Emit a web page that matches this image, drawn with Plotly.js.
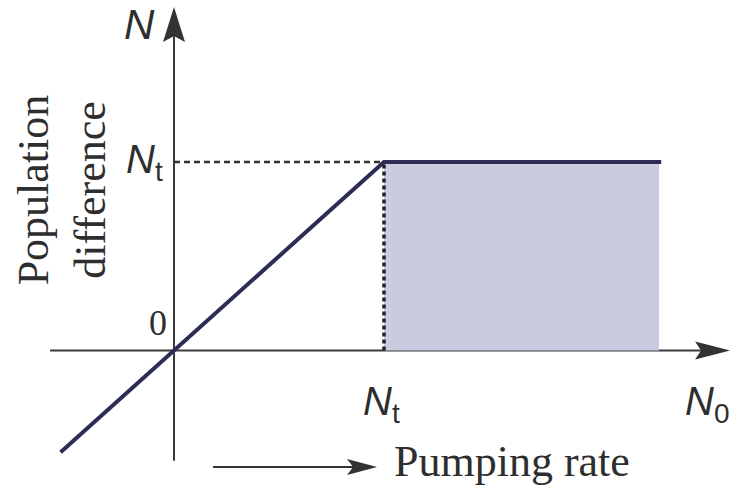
<!DOCTYPE html>
<html>
<head>
<meta charset="utf-8">
<script src="https://cdn.plot.ly/plotly-3.0.1.min.js"></script>
<style>html,body{margin:0;padding:0;background:#fff;}#chart{width:737px;height:487px;}</style>
</head>
<body>
<div id="chart"></div>
<script>
// Data (units of threshold N_t)
const pumpX = [-0.54, 0, 1, 2.32];        // pumping rate N0
const popY  = [-0.54, 0, 1, 1];           // population difference N
const threshold = 1;                       // N_t
const gainRegionX = [1, 2.31, 2.31, 1, 1];
const gainRegionY = [0, 0, 1, 1, 0];
const labels = { yTop: "<i>N</i>", yThresh: "<i>N</i><sub>t</sub>", origin: "0",
                 xThresh: "<i>N</i><sub>t</sub>", xEnd: "<i>N</i><sub>0</sub>",
                 yTitle: "Population<br>difference", xTitle: "Pumping rate" };

const ink = "#2e2e2e";
const lineCol = "#2b2d56";
const serif = "Liberation Serif, Times New Roman, serif";
const sans = "Liberation Sans, Arial, sans-serif";

const traces = [
  { x: gainRegionX, y: gainRegionY, type: "scatter", mode: "lines", fill: "toself",
    fillcolor: "#c9cce1", line: { width: 0 }, hoverinfo: "skip", showlegend: false },
  { x: [0, threshold], y: [threshold, threshold], type: "scatter", mode: "lines",
    line: { color: "#333", width: 2.5, dash: "6px,4px" }, showlegend: false },
  { x: [threshold, threshold], y: [0, threshold], type: "scatter", mode: "lines",
    line: { color: "#222", width: 3.5, dash: "4px,3px" }, showlegend: false },
  { x: pumpX, y: popY, type: "scatter", mode: "lines",
    line: { color: lineCol, width: 4 }, showlegend: false }
];

const shapes = [
  { type: "line", xref: "x", yref: "y", x0: -0.59, x1: 2.55, y0: 0, y1: 0, line: { color: "#3a3a3a", width: 2 }, layer: "below" },
  { type: "line", xref: "x", yref: "y", x0: 0, x1: 0, y0: -0.585, y1: 1.7, line: { color: "#3a3a3a", width: 2 }, layer: "below" },
  { type: "path", xref: "x", yref: "y", xsizemode: "pixel", ysizemode: "pixel", xanchor: 0, yanchor: 1.822,
    path: "M0,0 L-11,-35 L0,-29 L11,-35 Z", fillcolor: "#333", line: { width: 0 } },
  { type: "path", xref: "x", yref: "y", xsizemode: "pixel", ysizemode: "pixel", xanchor: 2.648, yanchor: 0,
    path: "M0,0 L-35,9 L-29,0 L-35,-9 Z", fillcolor: "#333", line: { width: 0 } },
  { type: "line", xref: "x", yref: "y", x0: 0.186, x1: 0.90, y0: -0.618, y1: -0.618, line: { color: "#333", width: 2 } },
  { type: "path", xref: "x", yref: "y", xsizemode: "pixel", ysizemode: "pixel", xanchor: 0.967, yanchor: -0.618,
    path: "M0,0 L-30,8 L-24,0 L-30,-8 Z", fillcolor: "#333", line: { width: 0 } }
];

const ann = (text, x, y, opts) => Object.assign({ text, x, y, xref: "x", yref: "y", showarrow: false }, opts);
const annotations = [
  ann(labels.yTop, -0.162, 1.727, { font: { family: sans, size: 42, color: ink } }),
  ann(labels.yThresh, -0.045, 1.0, { xanchor: "right", yanchor: "middle", font: { family: sans, size: 40, color: ink } }),
  ann(labels.origin, -0.076, 0.146, { font: { family: serif, size: 36, color: ink } }),
  ann(labels.xThresh, 0.99, -0.14, { yanchor: "top", font: { family: sans, size: 40, color: ink } }),
  ann(labels.xEnd, 2.54, -0.14, { yanchor: "top", font: { family: sans, size: 40, color: ink } }),
  ann(labels.yTitle, -0.533, 0.85, { textangle: -90, font: { family: serif, size: 44, color: ink } }),
  ann(labels.xTitle, 1.04, -0.59, { xanchor: "left", yanchor: "middle", font: { family: serif, size: 44, color: ink } })
];

const layout = {
  width: 737, height: 487,
  margin: { l: 0, r: 0, t: 0, b: 0 },
  paper_bgcolor: "#fff", plot_bgcolor: "#fff",
  xaxis: { range: [-0.8286, 2.681], visible: false, fixedrange: true },
  yaxis: { range: [-0.7241, 1.8594], visible: false, fixedrange: true },
  shapes, annotations, showlegend: false
};

Plotly.newPlot("chart", traces, layout, { staticPlot: true });
</script>
</body>
</html>
